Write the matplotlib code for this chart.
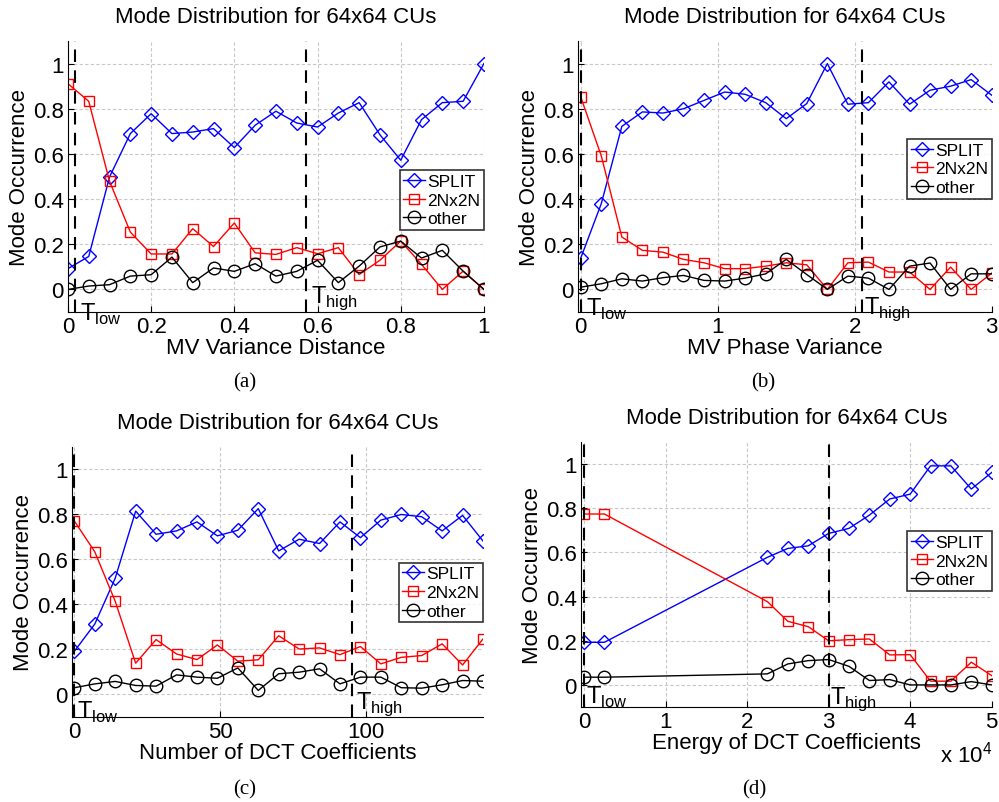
import matplotlib
matplotlib.use('Agg')
import matplotlib.pyplot as plt

plt.rcParams['font.family'] = ['Liberation Sans', 'DejaVu Sans']
plt.rcParams['mathtext.fontset'] = 'custom'
plt.rcParams['mathtext.rm'] = 'Liberation Sans'

# (a) MV Variance Distance
x_a = [0, 0.05, 0.1, 0.15, 0.2, 0.25, 0.3, 0.35, 0.4, 0.45, 0.5,
       0.55, 0.6, 0.65, 0.7, 0.75, 0.8, 0.85, 0.9, 0.95, 1.0]
split_a = [0.092, 0.146, 0.498, 0.69, 0.778, 0.69, 0.697, 0.712, 0.628, 0.727, 0.789,
           0.737, 0.719, 0.781, 0.827, 0.685, 0.572, 0.752, 0.827, 0.833, 1.0]
n2_a = [0.911, 0.833, 0.479, 0.254, 0.157, 0.157, 0.269, 0.19, 0.294, 0.162, 0.155,
        0.185, 0.158, 0.185, 0.066, 0.129, 0.214, 0.111, 0.0, 0.081, 0.0]
other_a = [0.0, 0.015, 0.021, 0.059, 0.065, 0.143, 0.03, 0.095, 0.08, 0.114, 0.059,
           0.08, 0.129, 0.03, 0.103, 0.188, 0.214, 0.139, 0.173, 0.081, 0.0]

# (b) MV Phase Variance
x_b = [0, 0.15, 0.3, 0.45, 0.6, 0.75, 0.9, 1.05, 1.2, 1.35, 1.5,
       1.65, 1.8, 1.95, 2.1, 2.25, 2.4, 2.55, 2.7, 2.85, 3.0]
split_b = [0.139, 0.38, 0.722, 0.786, 0.781, 0.80, 0.837, 0.874, 0.864, 0.827, 0.756,
           0.823, 1.0, 0.82, 0.827, 0.919, 0.82, 0.882, 0.9, 0.929, 0.86]
n2_b = [0.852, 0.591, 0.232, 0.173, 0.165, 0.133, 0.118, 0.092, 0.092, 0.103, 0.118,
        0.109, 0.0, 0.118, 0.121, 0.077, 0.077, 0.0, 0.099, 0.0, 0.072]
other_b = [0.01, 0.025, 0.047, 0.037, 0.052, 0.062, 0.04, 0.037, 0.05, 0.069, 0.133,
           0.066, 0.0, 0.059, 0.05, 0.0, 0.103, 0.117, 0.0, 0.069, 0.069]

# (c) Number of DCT Coefficients
x_c = [0, 7, 14, 21, 28, 35, 42, 49, 56, 63, 70,
       77, 84, 91, 98, 105, 112, 119, 126, 133, 140]
split_c = [0.192, 0.313, 0.517, 0.815, 0.712, 0.727, 0.767, 0.705, 0.73, 0.826, 0.638,
           0.69, 0.671, 0.767, 0.697, 0.775, 0.80, 0.79, 0.727, 0.796, 0.682]
n2_c = [0.771, 0.634, 0.414, 0.139, 0.244, 0.18, 0.155, 0.22, 0.148, 0.154, 0.261,
        0.202, 0.207, 0.177, 0.213, 0.136, 0.165, 0.173, 0.225, 0.131, 0.247]
other_c = [0.03, 0.047, 0.058, 0.04, 0.037, 0.087, 0.077, 0.072, 0.118, 0.018, 0.092,
           0.099, 0.114, 0.047, 0.077, 0.077, 0.03, 0.028, 0.043, 0.062, 0.059]

# (d) Energy of DCT Coefficients
x_d = [0, 2500, 22500, 25000, 27500, 30000, 32500, 35000, 37500,
       40000, 42500, 45000, 47500, 50000]
split_d = [0.193, 0.193, 0.578, 0.618, 0.63, 0.686, 0.709, 0.769, 0.842,
           0.864, 0.992, 0.992, 0.887, 0.962]
n2_d = [0.774, 0.774, 0.377, 0.288, 0.264, 0.2, 0.205, 0.208, 0.136,
        0.137, 0.017, 0.017, 0.103, 0.042]
other_d = [0.035, 0.035, 0.05, 0.095, 0.11, 0.115, 0.084, 0.02, 0.024,
           0.0, 0.0, 0.0, 0.015, 0.0]

panels = [
    dict(x=x_a, split=split_a, n2=n2_a, other=other_a, xlabel='MV Variance Distance',
         xlim=(0, 1), xticks=[0, 0.2, 0.4, 0.6, 0.8, 1], xticklabels=['0', '0.2', '0.4', '0.6', '0.8', '1'],
         t_low=0.018, t_high=0.572, low_txt=(0.028, -0.05), high_txt=(0.585, 0.025),
         rect=[0.068, 0.6102, 0.4164, 0.3375], leg_y=0.413, caption='(a)', cap_xy=(245, 383)),
    dict(x=x_b, split=split_b, n2=n2_b, other=other_b, xlabel='MV Phase Variance',
         xlim=(-0.02, 3), xticks=[0, 1, 2, 3], xticklabels=['0', '1', '2', '3'],
         t_low=0.0, t_high=2.05, low_txt=(0.04, -0.03), high_txt=(2.07, -0.02),
         rect=[0.5786, 0.6102, 0.4141, 0.3375], leg_y=0.528, caption='(b)', cap_xy=(763, 383)),
    dict(x=x_c, split=split_c, n2=n2_c, other=other_c, xlabel='Number of DCT Coefficients',
         xlim=(-0.9, 140), xticks=[0, 50, 100], xticklabels=['0', '50', '100'],
         t_low=0.0, t_high=95.2, low_txt=(1.0, -0.02), high_txt=(96.5, 0.025),
         rect=[0.0718, 0.1059, 0.4117, 0.3362], leg_y=0.461, caption='(c)', cap_xy=(245, 790)),
    dict(x=[v / 1e4 for v in x_d], split=split_d, n2=n2_d, other=other_d,
         xlabel='Energy of DCT Coefficients',
         xlim=(-0.04, 5), xticks=[0, 1, 2, 3, 4, 5], xticklabels=['0', '1', '2', '3', '4', '5'],
         t_low=0.0, t_high=3.0, low_txt=(0.03, 0.005), high_txt=(3.02, 0.005),
         rect=[0.5813, 0.1183, 0.4114, 0.330], leg_y=0.551, caption='(d)', cap_xy=(754, 790)),
]

fig = plt.figure(figsize=(9.99, 8.03), dpi=100)

for p in panels:
    ax = fig.add_axes(p['rect'])
    ax.plot(p['x'], p['split'], color='blue', marker='D', ms=7.5, mfc='none', mec='blue',
            mew=1.0, lw=1.0, label='SPLIT')
    ax.plot(p['x'], p['n2'], color='red', marker='s', ms=7.5, mfc='none', mec='red',
            mew=1.0, lw=1.0, label='2Nx2N')
    ax.plot(p['x'], p['other'], color='black', marker='o', ms=9, mfc='none', mec='black',
            mew=1.0, lw=1.0, label='other')
    ax.axvline(p['t_low'], color='black', ls=(0, (6, 4)), lw=1.5)
    ax.axvline(p['t_high'], color='black', ls=(0, (6, 4)), lw=1.5)
    ax.text(p['low_txt'][0], p['low_txt'][1], r'$\mathrm{T}_{\mathrm{low}}$', fontsize=17, va='top', ha='left')
    ax.text(p['high_txt'][0], p['high_txt'][1], r'$\mathrm{T}_{\mathrm{high}}$', fontsize=17, va='top', ha='left')

    ax.set_xlim(*p['xlim'])
    ax.set_ylim(-0.1, 1.1)
    ax.set_xticks(p['xticks'])
    ax.set_xticklabels(p['xticklabels'])
    ax.set_yticks([0, 0.2, 0.4, 0.6, 0.8, 1])
    ax.set_yticklabels(['0', '0.2', '0.4', '0.6', '0.8', '1'])
    ax.tick_params(direction='in', length=4, labelsize=16, pad=3)
    ax.grid(True, color='#c8c8c8', ls=(0, (3, 2)), lw=0.8)
    ax.spines['top'].set_visible(False)
    ax.spines['right'].set_visible(False)
    ax.set_title('Mode Distribution for 64x64 CUs', fontsize=16, pad=14)
    ax.set_xlabel(p['xlabel'], fontsize=16, labelpad=0)
    ax.set_ylabel('Mode Occurrence', fontsize=16, labelpad=2)
    leg = ax.legend(loc='center right', bbox_to_anchor=(1.0, p['leg_y']), fontsize=12.5, frameon=True,
                    fancybox=False, edgecolor='black', handlelength=1.25, handletextpad=0.15,
                    borderpad=0.2, labelspacing=0.2, borderaxespad=0.0)
    leg.get_frame().set_linewidth(1.2)
    fig.text(p['cap_xy'][0] / 999, 1 - p['cap_xy'][1] / 803, p['caption'],
             family='Liberation Serif', fontsize=15, ha='center', va='center')

fig.text(940 / 999, 1 - 755 / 803, r'x 10$^4$', fontsize=16, ha='left', va='center')

fig.savefig('out.png', dpi=100)
